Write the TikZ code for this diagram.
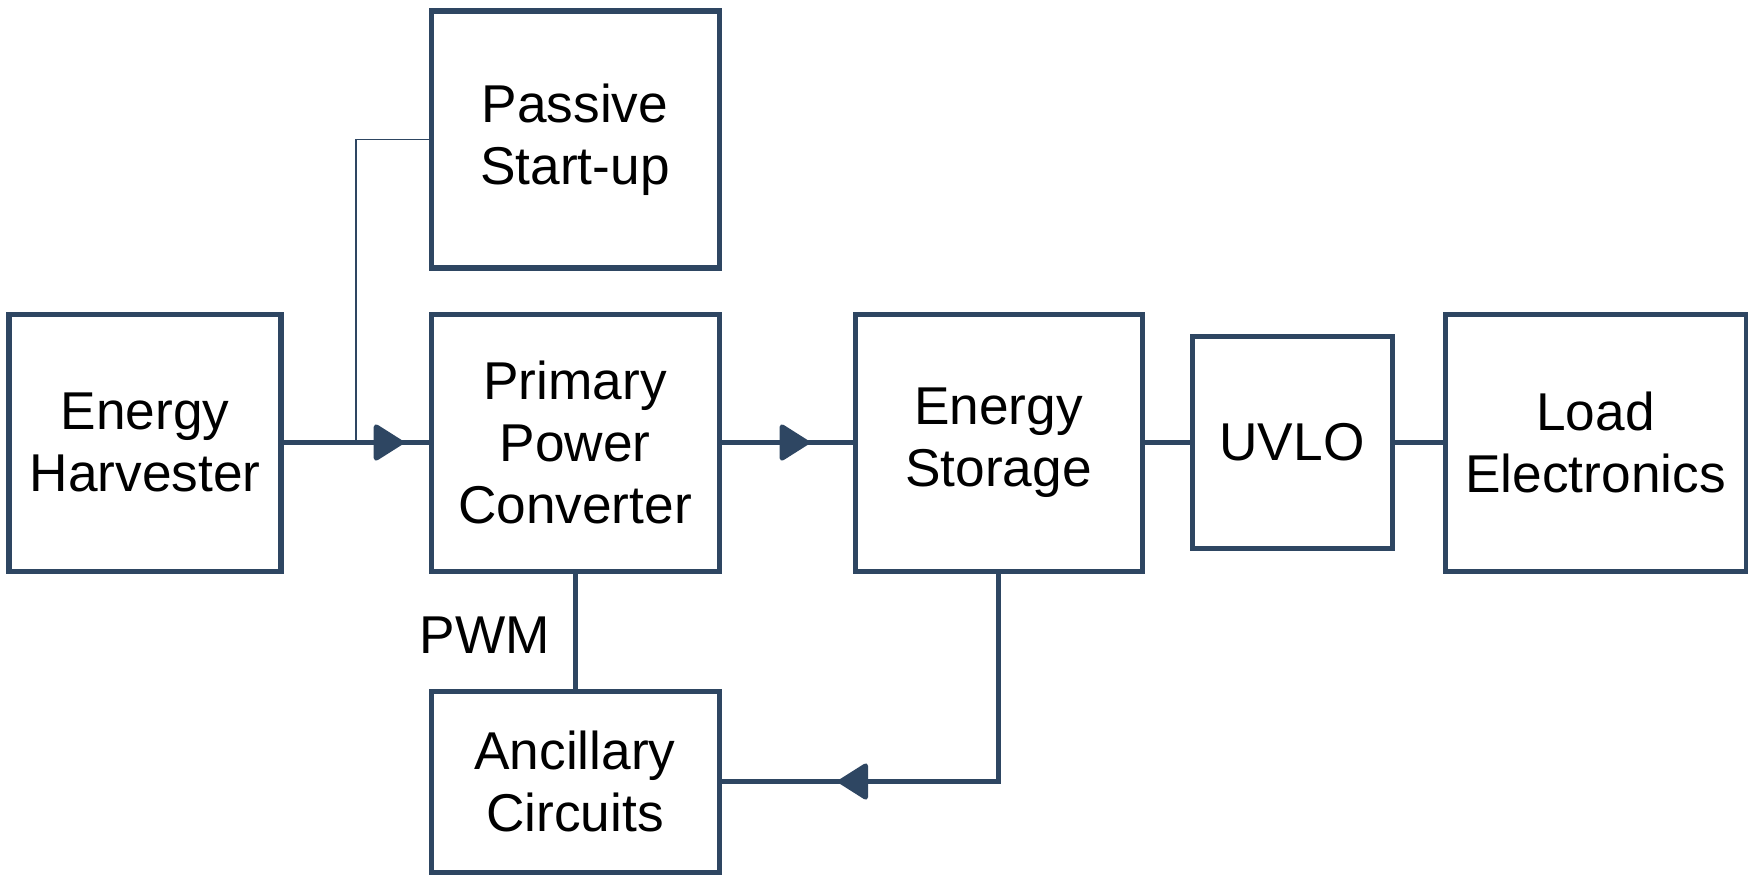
\documentclass[tikz,border=0pt]{standalone}
\usepackage{fontspec}
\setmainfont{Liberation Sans}
\usetikzlibrary{arrows.meta,decorations.markings}
\definecolor{boxblue}{HTML}{2E4662}

\begin{document}
\begin{tikzpicture}[x=0.02cm,y=-0.02cm,
  blk/.style={draw=boxblue,line width=2.85pt,align=center,inner sep=0pt,font=\fontsize{30.3}{35.5}\selectfont},
  wire/.style={draw=boxblue,line width=2.85pt},
  thinwire/.style={draw=boxblue,line width=0.8pt},
  midtip/.style={postaction={decorate},decoration={markings,mark=at position #1 with {\arrow[boxblue]{Triangle[length=0.64cm,width=0.78cm,round]}}}}]
  \useasboundingbox (0,0) rectangle (1748,879);
  \node[blk,minimum width=272*0.02cm,minimum height=257*0.02cm] (eh) at (145,442.5) {Energy\\Harvester};
  \node[blk,minimum width=288*0.02cm,minimum height=257*0.02cm] (ps) at (575,139.5) {Passive\\Start-up};
  \node[blk,minimum width=288*0.02cm,minimum height=257*0.02cm] (ppc) at (575,442.5) {Primary\\Power\\Converter};
  \node[blk,minimum width=288*0.02cm,minimum height=181*0.02cm] (ac) at (575,781.5) {Ancillary\\Circuits};
  \node[blk,minimum width=287*0.02cm,minimum height=257*0.02cm] (es) at (998.5,442.5) {Energy\\Storage};
  \node[blk,minimum width=200*0.02cm,minimum height=212*0.02cm] (uvlo) at (1292,442.5) {UVLO};
  \node[blk,minimum width=301*0.02cm,minimum height=257*0.02cm] (le) at (1595.5,442.5) {Load\\Electronics};
  \node[font=\fontsize{30.3}{35.5}\selectfont] (pwm) at (485,635) {PWM};
  \coordinate (tap) at (356,442.5);
  \draw[wire,midtip=0.827] (eh) -- (ppc);
  \draw[thinwire] (tap) |- (ps.west);
  \draw[wire,midtip=0.67] (ppc) -- (es);
  \draw[wire] (ppc) -- (ac);
  \draw[wire,midtip=0.759] (es.south) |- (ac.east);
  \draw[wire] (es) -- (uvlo);
  \draw[wire] (uvlo) -- (le);
\end{tikzpicture}
\end{document}
